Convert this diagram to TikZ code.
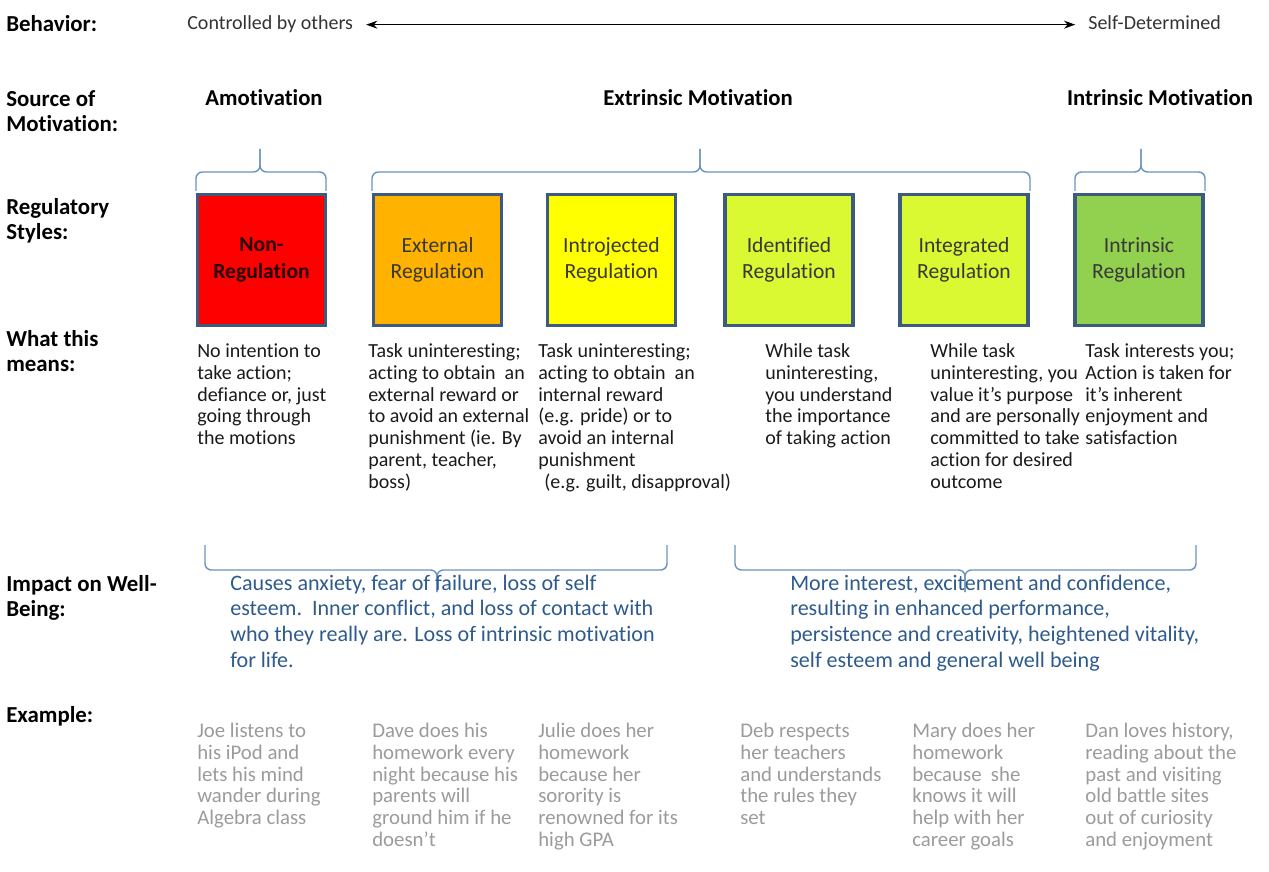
\documentclass[tikz,border=0pt]{standalone}
\usepackage{fontspec}
\setmainfont{Carlito}[Ligatures=NoCommon]
\usetikzlibrary{arrows.meta}
\definecolor{bordc}{HTML}{3D5A80}
\definecolor{bracec}{HTML}{6C93BF}
\definecolor{impc}{HTML}{2E5B8C}
\definecolor{exc}{HTML}{9B9B9B}
\definecolor{txc}{HTML}{1A1A1A}
\definecolor{cRed}{HTML}{FF0000}
\definecolor{cOrange}{HTML}{FFB200}
\definecolor{cYellow}{HTML}{FFFF00}
\definecolor{cLime}{HTML}{DBF932}
\definecolor{cGreen}{HTML}{92D050}
\begin{document}
\begin{tikzpicture}[x=0.625pt,y=-0.625pt,
  lbl/.style={anchor=north west,inner sep=0,align=left,font=\fontsize{14.3}{15.5}\selectfont\bfseries},
  head/.style={anchor=base,inner sep=0,font=\fontsize{14.2}{15}\selectfont\bfseries},
  axis/.style={anchor=base west,inner sep=0,font=\fontsize{12.5}{14}\selectfont,text=black!80},
  regbox/.style={draw=bordc,line width=1.9pt,minimum width=80pt,minimum height=82pt,inner sep=0,align=center,font=\fontsize{13.5}{16.5}\selectfont,text=black!78},
  means/.style={anchor=north west,inner sep=0,align=left,font=\fontsize{12.5}{13.6}\selectfont,text=txc},
  impact/.style={anchor=north west,inner sep=0,align=left,font=\fontsize{13.8}{16}\selectfont,text=impc},
  example/.style={anchor=north west,inner sep=0,align=left,font=\fontsize{13}{13.6}\selectfont,text=exc},
  brc/.style={draw=bracec,line width=0.9pt,rounded corners=4pt},
  dblarrow/.style={line width=0.8pt,{Stealth[length=7pt,width=5pt]}-{Stealth[length=7pt,width=5pt]},shorten <=8pt,shorten >=8pt}
]
\useasboundingbox (0,0) rectangle (1269,872);

% left labels
\node[lbl] (lBeh) at (6,14) {\strut Behavior:};
\node[lbl] (lSrc) at (6,89) {\strut Source of\\Motivation:};
\node[lbl] (lReg) at (6,197) {\strut Regulatory\\Styles:};
\node[lbl] (lMean) at (6,329) {\strut What this\\means:};
\node[lbl] (lImp) at (6,574) {\strut Impact on Well-\\Being:};
\node[lbl] (lEx) at (6,705) {\strut Example:};

% behavior axis
\node[axis] (ctrl) at (187,30) {Controlled by others};
\node[axis] (self) at (1088,30) {Self-Determined};
\draw[dblarrow] (ctrl.east) -- (ctrl.east -| self.west);

% sources
\node[head] (hAmo) at (264,106) {Amotivation};
\node[head] (hExt) at (698,106) {Extrinsic Motivation};
\node[head] (hInt) at (1160,106) {Intrinsic Motivation};

% top braces
\draw[brc] (196,191) -- (196,172) -- (260,172) -- (260,149);
\draw[brc] (326,191) -- (326,172) -- (260,172) -- (260,149);
\draw[brc] (372,191) -- (372,172) -- (700,172) -- (700,149);
\draw[brc] (1030,191) -- (1030,172) -- (700,172) -- (700,149);
\draw[brc] (1075,191) -- (1075,172) -- (1141,172) -- (1141,149);
\draw[brc] (1205,191) -- (1205,172) -- (1141,172) -- (1141,149);

% regulatory boxes
\node[regbox,fill=cRed,text=black!85!red,font=\fontsize{13.5}{16.5}\selectfont\bfseries] (bNon) at (261.5,260) {Non-\\Regulation};
\node[regbox,fill=cOrange] (bExt) at (437.5,260) {External\\Regulation};
\node[regbox,fill=cYellow] (bIntro) at (611.5,260) {Introjected\\Regulation};
\node[regbox,fill=cLime] (bIdent) at (789,260) {Identified\\Regulation};
\node[regbox,fill=cLime] (bInteg) at (964,260) {Integrated\\Regulation};
\node[regbox,fill=cGreen] (bIntr) at (1139,260) {Intrinsic\\Regulation};

% what this means
\node[means] (m1) at (197,342) {\strut No intention to\\take action;\\defiance or, just\\going through\\the motions};
\node[means] (m2) at (368,342) {\strut Task uninteresting;\\acting to obtain\ \ an\\external reward or\\to avoid an external\\punishment (ie. By\\parent, teacher,\\boss)};
\node[means] (m3) at (538,342) {\strut Task uninteresting;\\acting to obtain\ \ an\\internal reward\\(e.g. pride) or to\\avoid an internal\\punishment\\\hspace*{0.3em}(e.g. guilt, disapproval)};
\node[means] (m4) at (765,342) {\strut While task\\uninteresting,\\you understand\\the importance\\of taking action};
\node[means] (m5) at (930,342) {\strut While task\\uninteresting, you\\value it’s purpose\\and are personally\\committed to take\\action for desired\\outcome};
\node[means] (m6) at (1085,342) {\strut Task interests you;\\Action is taken for\\it’s inherent\\enjoyment and\\satisfaction};

% impact braces
\draw[brc] (205,545) -- (205,570) -- (437,570) -- (437,592);
\draw[brc] (667,545) -- (667,570) -- (437,570) -- (437,592);
\draw[brc] (735,545) -- (735,570) -- (965,570) -- (965,592);
\draw[brc] (1196,545) -- (1196,570) -- (965,570) -- (965,592);

% impact texts
\node[impact] (iNeg) at (230,572) {\strut Causes anxiety, fear of failure, loss of self\\esteem.\ \ Inner conflict, and loss of contact with\\who they really are. Loss of intrinsic motivation\\for life.};
\node[impact] (iPos) at (790,572) {\strut More interest, excitement and confidence,\\resulting in enhanced performance,\\persistence and creativity, heightened vitality,\\self esteem and general well being};

% examples
\node[example] (e1) at (197,722) {\strut Joe listens to\\his iPod and\\lets his mind\\wander during\\Algebra class};
\node[example] (e2) at (372,722) {\strut Dave does his\\homework every\\night because his\\parents will\\ground him if he\\doesn’t};
\node[example] (e3) at (538,722) {\strut Julie does her\\homework\\because her\\sorority is\\renowned for its\\high GPA};
\node[example] (e4) at (740,722) {\strut Deb respects\\her teachers\\and understands\\the rules they\\set};
\node[example] (e5) at (912,722) {\strut Mary does her\\homework\\because\ \ she\\knows it will\\help with her\\career goals};
\node[example] (e6) at (1085,722) {\strut Dan loves history,\\reading about the\\past and visiting\\old battle sites\\out of curiosity\\and enjoyment};
\end{tikzpicture}
\end{document}
